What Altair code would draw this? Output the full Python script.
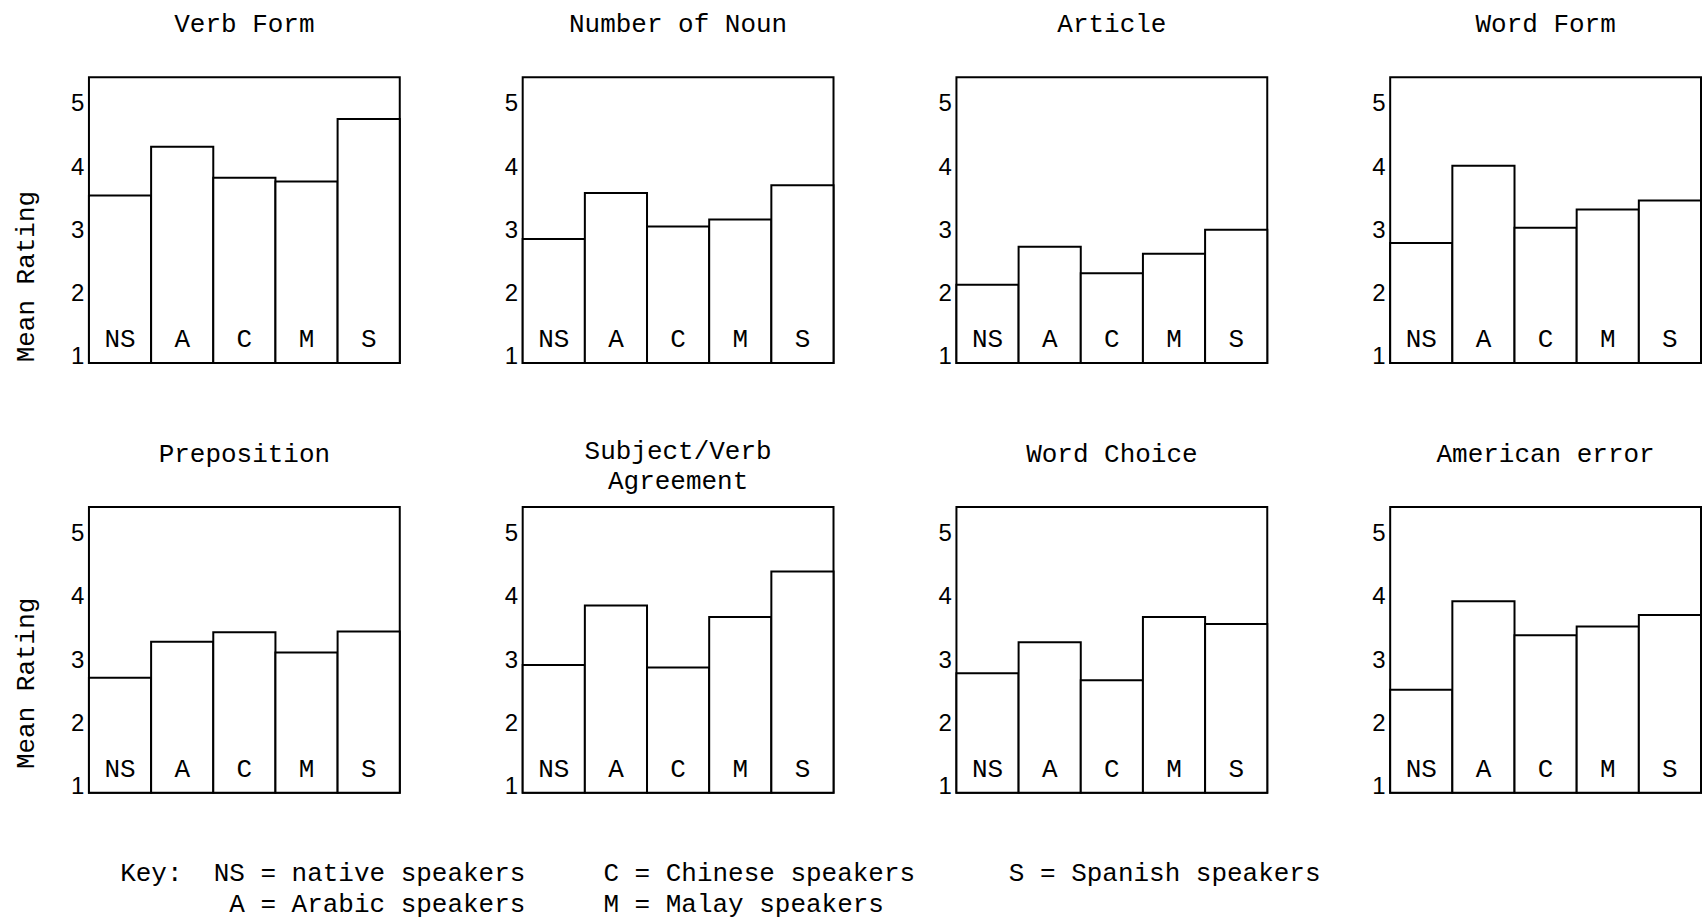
import altair as alt
import pandas as pd

# ---- data ----
groups = ["NS", "A", "C", "M", "S"]

panel_titles = [
    "Verb Form", "Number of Noun", "Article", "Word Form",
    "Preposition", ["Subject/Verb", "Agreement"], "Word Choice", "American error",
]

verb_form = [3.55, 4.32, 3.83, 3.77, 4.76]
number_of_noun = [2.86, 3.59, 3.06, 3.17, 3.71]
article = [2.14, 2.74, 2.32, 2.63, 3.01]
word_form = [2.80, 4.02, 3.04, 3.33, 3.47]
preposition = [2.72, 3.29, 3.44, 3.12, 3.45]
subject_verb = [2.92, 3.86, 2.88, 3.68, 4.40]
word_choice = [2.79, 3.28, 2.68, 3.68, 3.57]
american_error = [2.53, 3.93, 3.39, 3.53, 3.71]

panel_values = [verb_form, number_of_noun, article, word_form,
                preposition, subject_verb, word_choice, american_error]

y_ticks = [1, 2, 3, 4, 5]

key_texts = ["Key:", "NS = native speakers", "A = Arabic speakers",
             "C = Chinese speakers", "M = Malay speakers", "S = Spanish speakers"]
key_cols = [2, 8, 9, 33, 33, 59]
key_rows = [0, 0, 1, 0, 1, 0]

# ---- styling ----
MONO = "Liberation Mono"
SANS = "Liberation Sans"
Y_MIN, Y_MAX = 0.9, 5.42
W, H = 311, 286
CHAR_W = 15.6


def panel(i):
    title = panel_titles[i]
    values = panel_values[i]
    first_col = (i % 4 == 0)
    row = i // 4
    df = pd.DataFrame({"group": groups, "rating": values,
                       "base": [Y_MIN] * len(groups)})

    axis_kw = dict(values=y_ticks, tickSize=0, domain=False, grid=False,
                   labelFont=SANS, labelFontSize=24, labelPadding=5,
                   labelColor="black", labelBaseline="middle")
    if first_col:
        axis_kw.update(title="Mean Rating", titleFont=MONO, titleFontSize=26,
                       titleFontWeight="normal", titleColor="black",
                       titleX=-50, titleY=199 if row == 0 else 176,
                       titleAlign="center", titleAngle=270, titleBaseline="bottom")
    else:
        axis_kw.update(title="")

    xs = alt.Scale(paddingInner=0, paddingOuter=0)
    x = alt.X("group:N", sort=groups, scale=xs, axis=None)
    y = alt.Y("rating:Q", scale=alt.Scale(domain=[Y_MIN, Y_MAX], nice=False, zero=False),
              axis=alt.Axis(**axis_kw))

    bars = alt.Chart(df).mark_bar(fill="white", stroke="black", strokeWidth=2).encode(
        x=x, y=y, y2=alt.Y2("base"))
    labels = alt.Chart(df).mark_text(font=MONO, fontSize=26, color="black",
                                     baseline="middle", align="center").encode(
        x=alt.X("group:N", sort=groups, scale=xs, axis=None),
        y=alt.value(H - 24),
        text="group:N")

    two_line = isinstance(title, list)
    return alt.layer(bars, labels).properties(
        width=W, height=H,
        title=alt.TitleParams(title, font=MONO, fontSize=26, fontWeight="normal",
                              color="black", anchor="middle", lineHeight=30,
                              offset=13 if two_line else 40),
    )


grid = alt.concat(*[panel(i) for i in range(8)], columns=4,
                  spacing={"row": 144, "column": 123}, bounds="flush")

key_df = pd.DataFrame({"text": key_texts, "col": key_cols, "row": key_rows})
KEY_W = 1500
key = alt.Chart(key_df).mark_text(font=MONO, fontSize=26, color="black",
                                  align="left", baseline="middle").encode(
    x=alt.X("col:Q", scale=alt.Scale(domain=[0, 1], range=[0, CHAR_W]), axis=None),
    y=alt.Y("row:Q", scale=alt.Scale(domain=[0, 1], range=[73, 104]), axis=None),
    text="text:N",
).properties(width=KEY_W, height=122, view=alt.ViewBackground(strokeOpacity=0))

chart = alt.vconcat(grid, key, spacing=0).properties(
    padding={"left": 12, "top": 10, "right": 0, "bottom": 0},
    background="white",
).configure_view(stroke="black", strokeWidth=2)

chart.save("out.html", embed_options={"renderer": "svg", "actions": False})
